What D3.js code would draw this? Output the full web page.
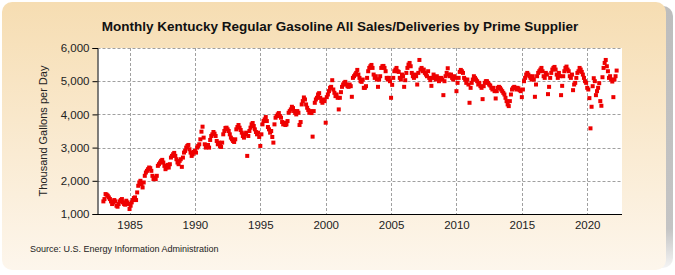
<!DOCTYPE html>
<html>
<head>
<meta charset="utf-8">
<script src="https://cdn.jsdelivr.net/npm/d3@7"></script>
<style>
  body { margin: 0; background: #fff; }
  svg { display: block; font-family: Arial, "Liberation Sans", sans-serif; }
</style>
</head>
<body>
<script>
// monthly values, thousand gallons per day, Jan 1983 onward
var startYear = 1983;
var gallons = [
  1380,1450,1600,1580,1550,1500,1450,1380,1300,1350,1420,1380, // 1983
  1250,1220,1300,1380,1420,1450,1350,1300,1280,1400,1350,1300, // 1984
  1150,1250,1350,1420,1480,1500,1420,1650,1850,1950,2000,1900, // 1985
  1800,1950,2150,2250,2300,2350,2400,2380,2300,2150,2050,2100, // 1986
  2050,2150,2450,2500,2550,2600,2630,2550,2450,2350,2400,2480, // 1987
  2400,2500,2700,2750,2800,2840,2750,2650,2550,2500,2600,2650, // 1988
  2420,2700,2850,2900,3000,3050,3080,2950,2850,2750,2800,2870, // 1989
  2900,2850,3000,3050,3100,3250,3480,3630,3300,3100,3000,3050, // 1990
  3080,3000,3230,3350,3400,3470,3420,3350,3200,3100,3150,3050, // 1991
  3020,3150,3400,3500,3590,3600,3550,3500,3400,3300,3250,3200, // 1992
  3170,3250,3550,3620,3680,3600,3530,3450,3350,3300,3400,3450, // 1993
  2750,3350,3500,3600,3700,3740,3650,3550,3470,3400,3450,3320, // 1994
  3050,3400,3700,3800,3850,3920,3800,3620,3550,3450,3500,3320, // 1995
  3150,3700,3900,3950,4000,4040,3950,3900,3770,3700,3750,3680, // 1996
  3700,3800,4050,4100,4150,4230,4190,4100,4050,4000,4100,4050, // 1997
  3680,3770,4300,4400,4510,4450,4300,4200,4130,4050,4100,4040, // 1998
  3330,4100,4350,4450,4500,4600,4640,4500,4400,4350,4450,4400, // 1999
  3750,4520,4600,4700,4800,4830,5030,4750,4650,4550,4600,4500, // 2000
  4150,4500,4670,4830,4900,4950,4980,4900,4850,4830,4900,4850, // 2001
  4530,5100,5150,5200,5250,5340,5200,5100,5000,4980,5050,4800, // 2002
  4800,4850,5100,5300,5400,5450,5490,5400,5200,5100,5150,5050, // 2003
  4830,5050,5150,5400,5450,5460,5400,5300,5100,5050,5100,5000, // 2004
  4500,4890,5100,5300,5350,5400,5300,5280,5100,5050,5200,5150, // 2005
  4830,5030,5250,5400,5500,5550,5450,5250,5150,5100,5200,5150, // 2006
  4900,5250,5640,5350,5400,5300,5350,5250,5200,5150,5300,5100, // 2007
  5030,4860,5100,5200,5100,5050,5150,5100,5000,5050,5100,5050, // 2008
  4580,5000,5150,5250,5390,5200,5150,5200,5100,5050,5150,5100, // 2009
  4700,4950,5100,5280,5340,5300,5250,5100,5050,4950,5050,4900, // 2010
  4350,4800,4950,5050,5150,5100,5050,5000,4900,4950,4850,4800, // 2011
  4460,4850,4950,5000,5000,4950,4900,4870,4800,4750,4800,4700, // 2012
  4480,4700,4800,4830,4800,4750,4700,4650,4600,4500,4400,4300, // 2013
  4250,4400,4600,4750,4800,4830,4800,4750,4800,4780,4730,4700, // 2014
  4520,4750,5000,5100,5200,5250,5200,5150,5100,5050,5150,5050, // 2015
  4530,4900,5150,5250,5300,5350,5400,5300,5150,5100,5250,5200, // 2016
  4610,4830,5100,5250,5350,5400,5430,5350,5200,5100,5250,5150, // 2017
  4580,4860,5150,5300,5400,5440,5350,5300,5150,5100,5200,4730, // 2018
  4900,4950,5100,5250,5300,5400,5350,5280,5200,5100,5000,4950, // 2019
  4800,4750,4490,3580,4230,4850,5090,5000,4580,4700,4800,4940, // 2020
  4400,4260,5120,5400,5550,5640,5450,5300,5100,5150,5050,4990, // 2021
  4520,5050,5150,5320                                          // 2022
];
var yTicks = [1000, 2000, 3000, 4000, 5000, 6000];
var xTicks = [1985, 1990, 1995, 2000, 2005, 2010, 2015, 2020];

var title = "Monthly Kentucky Regular Gasoline All Sales/Deliveries by Prime Supplier";
var yLabel = "Thousand Gallons per Day";
var source = "Source: U.S. Energy Information Administration";

var width = 675, height = 275;
var plotL = 97.5, plotR = 622, plotT = 48, plotB = 214;

var svg = d3.select("body").append("svg")
    .attr("width", width)
    .attr("height", height);

var defs = svg.append("defs");
var grad = defs.append("linearGradient")
    .attr("id", "bg")
    .attr("x1", 0).attr("y1", 0).attr("x2", 0).attr("y2", 1);
grad.append("stop").attr("offset", "0%").attr("stop-color", "#f6ddb2");
grad.append("stop").attr("offset", "100%").attr("stop-color", "#fdf6ec");

var sh = defs.append("linearGradient")
    .attr("id", "sh")
    .attr("x1", 0).attr("y1", 0).attr("x2", 0).attr("y2", 1);
sh.append("stop").attr("offset", "0%").attr("stop-color", "#bdbdbd");
sh.append("stop").attr("offset", "85%").attr("stop-color", "#c4c4c4");
sh.append("stop").attr("offset", "100%").attr("stop-color", "#f4f4f4");

// panel + shadow on the right
svg.append("rect")
    .attr("x", 8).attr("y", 6)
    .attr("width", 665).attr("height", 262)
    .attr("rx", 10)
    .attr("fill", "url(#sh)");
svg.append("rect")
    .attr("x", 2).attr("y", 2)
    .attr("width", 664).attr("height", 268)
    .attr("rx", 10)
    .attr("fill", "url(#bg)");

// plot area
svg.append("rect")
    .attr("x", plotL).attr("y", plotT)
    .attr("width", plotR - plotL).attr("height", plotB - plotT)
    .attr("fill", "#fff");

var x = d3.scaleLinear()
    .domain([1982.55, 2022.66])
    .range([plotL, plotR]);
var y = d3.scaleLinear()
    .domain([1000, 6000])
    .range([plotB, plotT]);

// grid
svg.append("g").selectAll("line")
  .data(yTicks.filter(function(d){ return d > 1000; }))
  .enter().append("line")
    .attr("x1", plotL).attr("x2", plotR)
    .attr("y1", function(d){ return Math.round(y(d)) + 0.5; })
    .attr("y2", function(d){ return Math.round(y(d)) + 0.5; })
    .attr("stroke", "#a0a0a0")
    .attr("stroke-dasharray", "3,2");
svg.append("g").selectAll("line")
  .data(xTicks)
  .enter().append("line")
    .attr("x1", function(d){ return Math.round(x(d)) + 0.5; })
    .attr("x2", function(d){ return Math.round(x(d)) + 0.5; })
    .attr("y1", plotT).attr("y2", plotB)
    .attr("stroke", "#a0a0a0")
    .attr("stroke-dasharray", "3,2");

// points
var pts = gallons.map(function(v, i){ return {t: startYear + i / 12, v: v}; });
svg.append("g").selectAll("rect")
  .data(pts)
  .enter().append("rect")
    .attr("x", function(d){ return x(d.t) - 2; })
    .attr("y", function(d){ return y(d.v) - 2; })
    .attr("width", 4).attr("height", 4)
    .attr("fill", "#ee0000");

// axes
var yAxis = svg.append("g")
    .attr("transform", "translate(" + plotL + ",0)")
    .call(d3.axisLeft(y).tickValues(yTicks).tickSize(5).tickPadding(3)
      .tickFormat(d3.format(",")));
var xAxis = svg.append("g")
    .attr("transform", "translate(0," + (plotB + 0.5) + ")")
    .call(d3.axisBottom(x).tickValues(xTicks).tickSize(0).tickPadding(6)
      .tickFormat(d3.format("d")));
[yAxis, xAxis].forEach(function(a){
  a.select(".domain").attr("stroke", "#000");
  a.selectAll("text").attr("font-size", 11.5).attr("fill", "#222")
    .attr("font-family", "Arial, 'Liberation Sans', sans-serif");
});
xAxis.select(".domain").attr("d", "M" + plotL + ",0H" + plotR);

// texts
svg.append("text")
    .attr("x", 340).attr("y", 31)
    .attr("text-anchor", "middle")
    .attr("font-family", "'Liberation Sans Narrow', 'Arial Narrow', Arial, sans-serif")
    .attr("font-weight", "bold")
    .attr("font-size", 13.5)
    .attr("fill", "#111")
    .text(title);

svg.append("text")
    .attr("transform", "translate(47,131) rotate(-90)")
    .attr("text-anchor", "middle")
    .attr("font-size", 11)
    .attr("fill", "#222")
    .text(yLabel);

svg.append("text")
    .attr("x", 30).attr("y", 252)
    .attr("font-size", 9)
    .attr("fill", "#222")
    .text(source);
</script>
</body>
</html>
